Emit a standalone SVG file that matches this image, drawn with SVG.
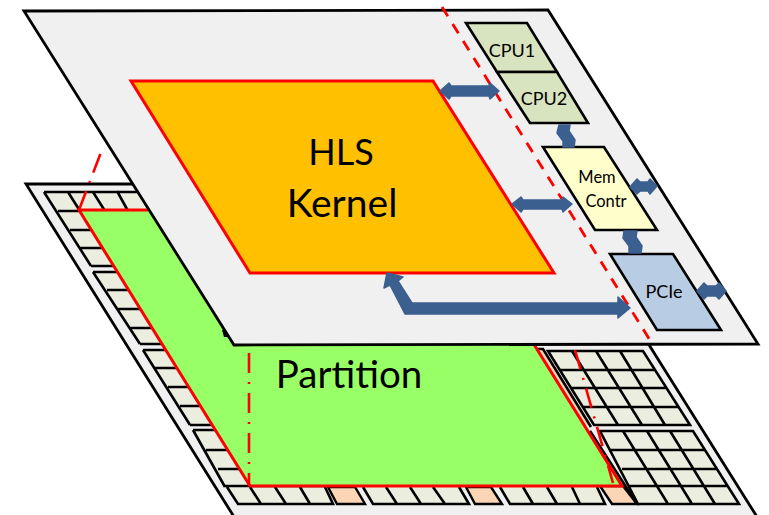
<svg xmlns="http://www.w3.org/2000/svg" width="769" height="515" viewBox="0 0 769 515">
<style>
.plane{fill:#f0f0f0;stroke:#000;stroke-width:2.8;stroke-linejoin:miter}
.cell{fill:#ebeedf;stroke:none}
.peach{fill:#fcd5b5;stroke:#000;stroke-width:2.4}
.grid{fill:none;stroke:#000;stroke-width:2.6}
.box{stroke:#000;stroke-width:2.6}
.kernel{stroke:#f00;stroke-width:3}
.dashdot{fill:none;stroke:#f00;stroke-width:2.6;stroke-dasharray:20 9 2 9}
.dash{fill:none;stroke:#f00;stroke-width:2.8;stroke-dasharray:11 9}
.arrow{fill:#3b5f8f;stroke:#3b5f8f;stroke-width:1.5;stroke-linejoin:round}
text{font-family:Lato,"Open Sans",sans-serif;fill:#000;text-anchor:middle}
.s{font-size:18px}.m{font-size:16.5px}
</style>
<g id="fabric">
<polygon class="plane" points="26,184 548,184 759,520 236,520"/>
<polygon class="cell" points="44,192 138,192 170,266 91,266"/>
<polygon class="cell" points="93,272 160,272 200,344 140,344"/>
<polygon class="cell" points="143,350 210,350 250,425 190,425"/>
<polygon class="cell" points="193,430 260,430 290,487 225,487"/>
<path class="grid" d="M44 192H138M91 266H125M44 192L91 266M68 192L80 211M93 192L105 211M117 191L128 211M58 211H90M70 230H110M80 248H120M93 272H125M93 272L140 344M107 290H140M117 309H150M130 328H160M140 344H170M143 350H175M143 350L190 425M155 368H190M168 387H200M180 406H215M190 425H225M193 430H230M193 430L225 487M206 450H240M218 469H250"/>
<polygon class="cell" points="225,486 325,486 333,504 238,504"/>
<path class="grid" d="M225 486H326M227 487L238 504H333L325 487M250 487L261 504M275 487L286 504M300 487L310 504"/>
<polygon class="peach" points="328,487 355,487 365,504 337,504"/>
<polygon class="cell" points="363,487 463,487 469,504 373,504"/>
<path class="grid" d="M363 487L373 504H469L459 487M386 487L397 504M410 487L421 504M433 487L445 504"/>
<polygon class="peach" points="466,487 491,487 502,504 475,504"/>
<polygon class="cell" points="500,487 597,487 605,504 510,504"/>
<path class="grid" d="M500 487L510 504H605L597 487M523 487L533 504M547 487L557 504M572 487L580 504"/>
<polygon class="peach" points="600,486 623,486 637,504 612,504"/>
<polygon class="cell" points="548,351 643,351 690,425 594,425"/>
<path class="grid" d="M548 351H643L690 425H594ZM560 370H655M571 388H666M583 407H678M572 351L618 425M596 351L642 425M620 351L665 425"/>
<polygon class="cell" points="600,431 693,431 739,504 638,504"/>
<path class="grid" d="M600 431H693L739 504H638ZM610 450H705M622 469H717M628 486H727M623 431L668 504M647 431L692 504M670 431L715 504"/>
<polygon points="536,349 543,349 590,425 584,425" fill="#fcd5b5"/>
<path class="grid" d="M536 349H543L591 427M590 431L637 504"/>
</g>
<g id="partition">
<polygon points="79,210 148,210 300,300 520,320 622,486 250,486" fill="#99ff66" stroke="none"/>
<path d="M148 210H79L250 486H622L530 338" fill="none" stroke="#f00" stroke-width="3"/>
<path class="dashdot" d="M249 353V486"/>
<path class="dashdot" d="M79 210L103 147"/>
<path class="dashdot" d="M575 350L613 483"/>
<text x="349" y="388" font-size="38.5">Partition</text>
</g>
<g id="device">
<polygon points="222,330 226,330 228,337 224,337" fill="#000"/>
<polygon class="plane" points="24,11 548,10 758,344 234,345"/>
<path class="dash" d="M442 7L653 345"/>
</g>
<g id="kernel">
<polygon class="kernel" points="131,81 433,81 554,273 250,273" fill="#ffc000"/>
<text x="341" y="165" font-size="36">HLS</text>
<text x="342" y="217" font-size="39">Kernel</text>
</g>
<g id="cpu1">
<polygon class="box" points="466,23 527,23 557,72 497,72" fill="#d8e3bf"/>
<text class="s" x="512" y="57">CPU1</text>
</g>
<g id="cpu2">
<polygon class="box" points="497,72 557,72 588,123 530,123" fill="#d8e3bf"/>
<text class="s" x="544" y="105">CPU2</text>
</g>
<g id="mem">
<polygon class="box" points="543,147 604,147 657,230 595,230" fill="#ffffcc"/>
<text class="m" x="597" y="183">Mem</text>
<text class="m" x="606" y="207">Contr</text>
</g>
<g id="pcie">
<polygon class="box" points="610,254 673,254 721,330 657,330" fill="#b8cce4"/>
<text class="s" x="664" y="298">PCIe</text>
</g>
<g id="connectors">
<polygon class="arrow" points="440,91 449,83 451,86 489,86 490,83 499,91 490,99 489,96 451,96 449,99"/>
<polygon class="arrow" points="512,204 521,197 523,200 562,200 563,197 572,204 563,212 562,209 523,209 521,212"/>
<polygon class="arrow" points="557,133 559,125 570,125 569,131 575,140 574,147 563,147 563,141"/>
<polygon class="arrow" points="623,238 624,231 637,231 636,237 642,246 641,253 629,253 629,246"/>
<polygon class="arrow" points="630,187 637,179 640,182 648,182 650,179 657,186 650,194 648,191 640,191 637,194"/>
<polygon class="arrow" points="697,291 704,283 707,286 716,286 719,283 726,291 719,299 716,296 707,296 704,299"/>
<polygon class="arrow" points="387,273 403,277 398,281 412,303 618,303 618,297 630,308 618,318 618,314 405,314 390,285 384,288"/>
</g>
</svg>
